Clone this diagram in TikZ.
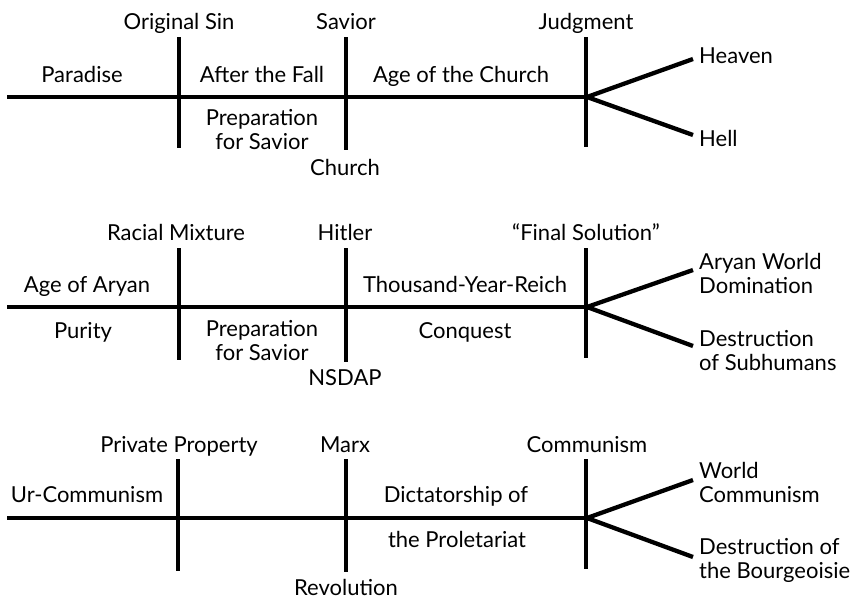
\documentclass[tikz,border=0pt]{standalone}
\usepackage{fontspec}
\setmainfont{Lato}
\begin{document}
\begin{tikzpicture}[x=1pt,y=-1pt,
  bar/.style={line width=4.3pt},
  lbl/.style={font=\fontsize{22}{23.5}\selectfont, inner sep=0pt, anchor=base, align=center},
  lblw/.style={lbl, anchor=base west, align=left},
]
\useasboundingbox (0,0) rectangle (862,600);

% Multi-line labels are placed by the baseline of their last line.

% ---------- Christian history ----------
\coordinate (a0) at (7,97);
\coordinate (aj) at (587,97);
\coordinate (a1t) at (179,37);  \coordinate (a1b) at (179,148);
\coordinate (a2t) at (346,37);  \coordinate (a2b) at (346,150);
\coordinate (a3t) at (586,37);  \coordinate (a3b) at (586,147);
\coordinate (aup) at (693,59);  \coordinate (adn) at (693,135);
\draw[bar] (a0) -- (aj);
\draw[bar] (a1t) -- (a1b);
\draw[bar] (a2t) -- (a2b);
\draw[bar] (a3t) -- (a3b);
\draw[bar] (aj) -- (aup);
\draw[bar] (aj) -- (adn);

\node[lbl] (origsin)   at (179,29) {Original Sin};
\node[lbl] (savior)    at (346,29) {Savior};
\node[lbl] (judgment)  at (586,29) {Judgment};
\node[lbl] (paradise)  at (82,82)  {Paradise};
\node[lbl] (afterfall) at (262,82) {After the Fall};
\node[lbl] (agechurch) at (461,82) {Age of the Church};
\node[lbl] (prepa)     at (262,149) {Preparation\\for Savior};
\node[lbl] (church)    at (345,175) {Church};
\node[lblw] (heaven)   at (699,63) {Heaven};
\node[lblw] (hell)     at (699,146) {Hell};

% ---------- National Socialism ----------
\coordinate (b0) at (7,307);
\coordinate (bj) at (587,307);
\coordinate (b1t) at (179,248);  \coordinate (b1b) at (179,360);
\coordinate (b2t) at (346,248);  \coordinate (b2b) at (346,362);
\coordinate (b3t) at (586,248);  \coordinate (b3b) at (586,358);
\coordinate (bup) at (693,270);  \coordinate (bdn) at (693,346);
\draw[bar] (b0) -- (bj);
\draw[bar] (b1t) -- (b1b);
\draw[bar] (b2t) -- (b2b);
\draw[bar] (b3t) -- (b3b);
\draw[bar] (bj) -- (bup);
\draw[bar] (bj) -- (bdn);

\node[lbl] (racial)    at (176,240) {Racial Mixture};
\node[lbl] (hitler)    at (345,240) {Hitler};
\node[lbl] (finalsol)  at (586,240) {“Final Solution”};
\node[lbl] (aryanage)  at (87,292)  {Age of Aryan};
\node[lbl] (reich)     at (465,292) {Thousand-Year-Reich};
\node[lbl] (purity)    at (83,338)  {Purity};
\node[lbl] (prepb)     at (262,360) {Preparation\\for Savior};
\node[lbl] (conquest)  at (465,338) {Conquest};
\node[lbl] (nsdap)     at (345,385) {NSDAP};
\node[lblw] (aryanworld) at (699,293) {Aryan World\\Domination};
\node[lblw] (subhuman)   at (699,370) {Destruction\\of Subhumans};

% ---------- Marxism ----------
\coordinate (c0) at (7,518);
\coordinate (cj) at (587,518);
\coordinate (c1t) at (178,459);  \coordinate (c1b) at (178,571);
\coordinate (c2t) at (346,459);  \coordinate (c2b) at (346,572);
\coordinate (c3t) at (586,459);  \coordinate (c3b) at (586,569);
\coordinate (cup) at (693,480);  \coordinate (cdn) at (693,557);
\draw[bar] (c0) -- (cj);
\draw[bar] (c1t) -- (c1b);
\draw[bar] (c2t) -- (c2b);
\draw[bar] (c3t) -- (c3b);
\draw[bar] (cj) -- (cup);
\draw[bar] (cj) -- (cdn);

\node[lbl] (property)  at (179,452) {Private Property};
\node[lbl] (marx)      at (345,452) {Marx};
\node[lbl] (communism) at (587,452) {Communism};
\node[lbl] (urcomm)    at (87,502)  {Ur-Communism};
\node[lbl] (dictat)    at (456,502) {Dictatorship of};
\node[lbl] (proletar)  at (457,547) {the Proletariat};
\node[lbl] (revol)     at (346,595) {Revolution};
\node[lblw] (worldcomm) at (699,502) {World\\Communism};
\node[lblw] (bourgeois) at (699,578) {Destruction of\\the Bourgeoisie};
\end{tikzpicture}
\end{document}
